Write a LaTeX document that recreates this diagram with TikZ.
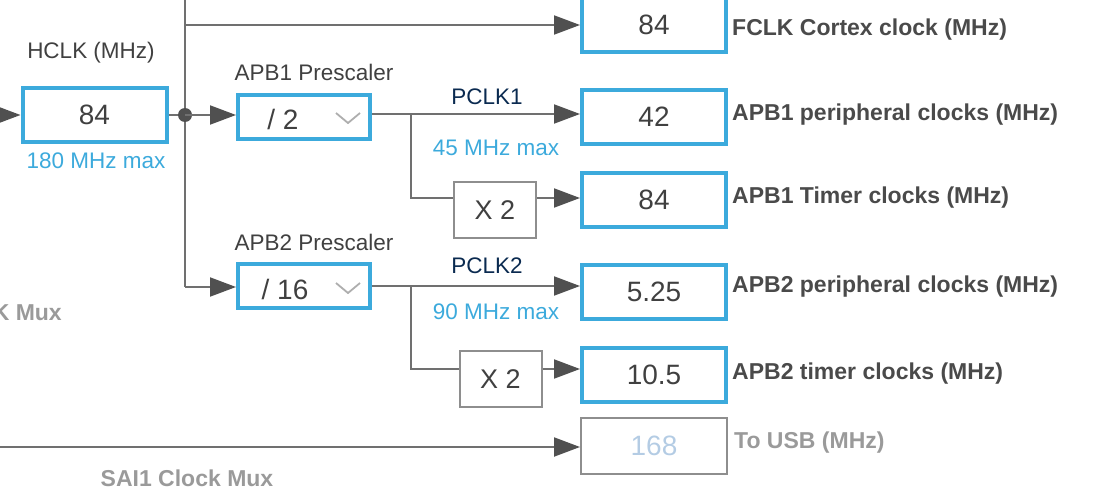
\documentclass[tikz,border=0pt]{standalone}
\usepackage{fontspec}
\setmainfont{Liberation Sans}
\usetikzlibrary{arrows.meta}
\definecolor{cblue}{HTML}{3CAADC}
\definecolor{cline}{HTML}{707070}
\definecolor{carrow}{HTML}{505050}
\definecolor{ctext}{HTML}{404040}
\definecolor{clab}{HTML}{4A4A4A}
\definecolor{cnavy}{HTML}{0A2A50}
\definecolor{cgray}{HTML}{9A9A9A}
\definecolor{cdis}{HTML}{B4CCE4}
\definecolor{cgbox}{HTML}{8E8E8E}
\begin{document}
\begin{tikzpicture}[x=1pt,y=-1pt,
  valbox/.style={draw=cblue,line width=4pt,minimum width=144pt,minimum height=54pt,inner sep=0pt,text=ctext,font=\fontsize{28}{30}\selectfont},
  prebox/.style={draw=cblue,line width=4pt,minimum width=132pt,minimum height=44pt,inner sep=0pt},
  mulbox/.style={draw=cgbox,line width=2pt,minimum width=82pt,minimum height=56pt,inner sep=0pt,text=ctext,font=\fontsize{27}{30}\selectfont},
  disbox/.style={draw=cgbox,line width=2pt,minimum width=146pt,minimum height=56pt,inner sep=0pt,text=cdis,font=\fontsize{28}{30}\selectfont},
  wire/.style={draw=cline,line width=2pt},
  arr/.style={wire,-{Triangle[length=26pt,width=19pt,fill=carrow,color=carrow]}},
  small/.style={font=\fontsize{22.5}{26}\selectfont,text=ctext,inner sep=0pt},
  bluetxt/.style={font=\fontsize{22.5}{26}\selectfont,text=cblue,inner sep=0pt},
  navytxt/.style={font=\fontsize{22.5}{26}\selectfont,text=cnavy,inner sep=0pt},
  boldlab/.style={font=\fontsize{23}{26}\selectfont\bfseries,text=clab,inner sep=0pt,anchor=west},
  graylab/.style={font=\fontsize{23}{26}\selectfont\bfseries,text=cgray,inner sep=0pt},
  chev/.style={draw=cgray!80,line width=1.8pt}
]
\useasboundingbox (0,0) rectangle (1115,500);

% value boxes
\node[valbox] (hclk) at (94.5,115) {84};
\node[valbox] (fclk) at (654,25) {84};
\node[valbox] (b42) at (654,117) {42};
\node[valbox] (b84) at (654,200) {84};
\node[valbox] (b525) at (654,291.5) {5.25};
\node[valbox] (b105) at (654,374.5) {10.5};
\node[disbox] (b168) at (654,446) {168};

% prescalers
\node[prebox] (pre1) at (304,117) {};
\node[prebox] (pre2) at (304,286) {};
\node[small,font=\fontsize{28}{30}\selectfont] (pre1t) at (283,119) {/ 2};
\node[small,font=\fontsize{28}{30}\selectfont] (pre2t) at (285,289) {/ 16};
\draw[chev] (336,113) -- (348,123) -- (360,113);
\draw[chev] (336,283) -- (348,293) -- (360,283);

% multipliers
\node[mulbox] (x2a) at (495,210) {X 2};
\node[mulbox] (x2b) at (500.5,379) {X 2};

% coordinates
\coordinate (in) at (0,115);
\coordinate (top) at (185,0);
\coordinate (tj) at (185,25);
\coordinate (j) at (185,115);
\coordinate (c2) at (185,287);
\coordinate (br1) at (411,114);
\coordinate (br1d) at (411,198);
\coordinate (br2) at (411,286);
\coordinate (br2d) at (411,369);
\coordinate (usbin) at (0,447);

% wires
\draw[arr] (in) -- (in -| hclk.west);
\draw[wire] (top) -- (c2);
\draw[arr] (tj) -- (tj -| fclk.west);
\draw[wire] (hclk.east |- j) -- (j);
\fill[carrow] (j) circle (7pt);
\draw[arr] (j) -- (j -| pre1.west);
\draw[arr] (c2) -- (c2 -| pre2.west);

\draw[arr] (pre1.east |- br1) -- (br1 -| b42.west);
\draw[wire] (br1) -- (br1d) -- (br1d -| x2a.west);
\draw[arr] (br1d -| x2a.east) -- (br1d -| b84.west);

\draw[arr] (pre2.east |- br2) -- (br2 -| b525.west);
\draw[wire] (br2) -- (br2d) -- (br2d -| x2b.west);
\draw[arr] (x2b.east |- br2d) -- (br2d -| b105.west);

\draw[arr] (usbin) -- (usbin -| b168.west);

% labels
\node[small] (hclkl) at (91,53) {HCLK (MHz)};
\node[bluetxt] (hclkm) at (96,161) {180 MHz max};
\node[small] (apb1l) at (314,72) {APB1 Prescaler};
\node[small] (apb2l) at (314,242) {APB2 Prescaler};
\node[navytxt] (pclk1) at (487,97) {PCLK1};
\node[bluetxt] (m45) at (496,148) {45 MHz max};
\node[navytxt] (pclk2) at (487,266) {PCLK2};
\node[bluetxt] (m90) at (496,312) {90 MHz max};

\node[boldlab] (l1) at (732,30) {FCLK Cortex clock (MHz)};
\node[boldlab] (l2) at (732,115) {APB1 peripheral clocks (MHz)};
\node[boldlab] (l3) at (732,198) {APB1 Timer clocks (MHz)};
\node[boldlab] (l4) at (732,287) {APB2 peripheral clocks (MHz)};
\node[boldlab] (l5) at (732,374) {APB2 timer clocks (MHz)};
\node[graylab,anchor=west] (l6) at (734,443) {To USB (MHz)};

\node[graylab,anchor=east] (kmux) at (62,313) {K Mux};
\node[graylab] (sai) at (187,478) {SAI1 Clock Mux};
\end{tikzpicture}
\end{document}
